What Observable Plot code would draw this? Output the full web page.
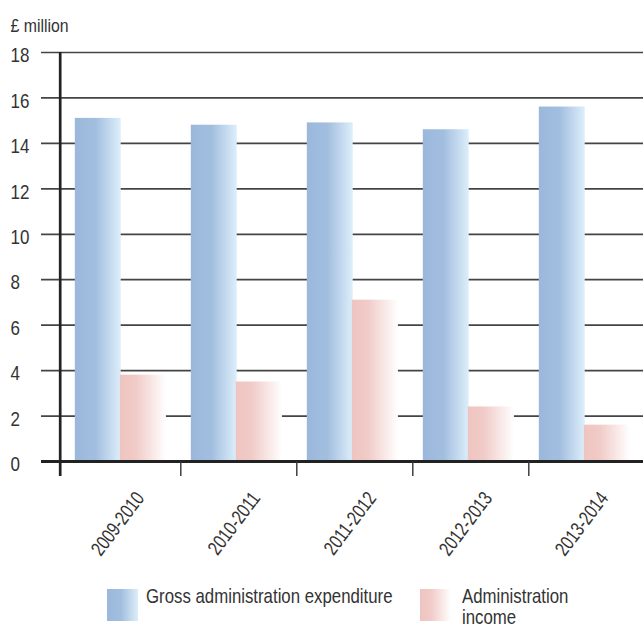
<!DOCTYPE html>
<html>
<head>
<meta charset="utf-8">
<script src="https://cdn.jsdelivr.net/npm/d3@7"></script>
<script src="https://cdn.jsdelivr.net/npm/@observablehq/plot@0.6"></script>
<style>
  html, body { margin: 0; padding: 0; background: #fff; overflow: hidden; }
  body { width: 643px; height: 628px; font-family: "Liberation Sans", Arial, sans-serif; color: #333; }
  #chart svg { display: block; }
  .legend { position: relative; height: 46px; }
  .legend .swatch { position: absolute; top: 7px; width: 31px; height: 32px; }
  .legend .label { position: absolute; top: 3px; font-size: 21px; line-height: 21px; color: #333;
                   transform: scaleX(0.8); transform-origin: 0 0; white-space: normal; }
  .swatch.exp { left: 107px; background: linear-gradient(to right, #9bb7db 0%, #a2bedf 45%, #ddeefa 100%); }
  .swatch.inc { left: 420px; background: linear-gradient(to right, #eec4c0 0%, #f0cbc8 35%, #ffffff 100%); }
</style>
</head>
<body>
<div id="chart"></div>
<script>
// Gross administration expenditure and administration income, £ million
const years = ["2009-2010", "2010-2011", "2011-2012", "2012-2013", "2013-2014"];
const expenditure = [15.1, 14.8, 14.9, 14.6, 15.6];
const income = [3.8, 3.5, 7.1, 2.4, 1.6];
const yTicks = [0, 2, 4, 6, 8, 10, 12, 14, 16, 18];
const seriesNames = ["Gross administration expenditure", "Administration income"];
const unitLabel = "£ million";

const rows = years.map((year, i) => ({year, expenditure: expenditure[i], income: income[i]}));

const width = 643, height = 582;
const marginLeft = 62, marginRight = -2, marginTop = 52, marginBottom = 121;
const bw = (width - marginLeft - marginRight) / years.length;
const font = "Liberation Sans, Arial, sans-serif";

// Horizontal gradients, one per series, stretched over each bar
const defs = () => {
  const d = d3.create("svg:defs");
  const add = (id, stops) => {
    const g = d.append("linearGradient").attr("id", id).attr("x1", 0).attr("x2", 1).attr("y1", 0).attr("y2", 0);
    for (const [o, c] of stops) g.append("stop").attr("offset", o).attr("stop-color", c);
  };
  add("grad-exp", [[0, "#9bb7db"], [0.45, "#a2bedf"], [1, "#ddeefa"]]);
  add("grad-inc", [[0, "#eec4c0"], [0.35, "#f0cbc8"], [1, "#ffffff"]]);
  return d.node();
};

const chart = Plot.plot({
  width, height, marginLeft, marginRight, marginTop, marginBottom,
  style: {fontFamily: font, background: "#fff", overflow: "visible"},
  x: {domain: years, padding: 0, axis: null},
  y: {domain: [0, 18], axis: null},
  marks: [
    defs,
    // gridlines
    Plot.ruleY(yTicks.filter(d => d > 0), {y: d => d, stroke: "#444", strokeWidth: 1.7, insetLeft: -21, insetRight: 0}),
    // bars
    Plot.barY(rows, {x: "year", y: "expenditure", fill: "url(#grad-exp)", insetLeft: 10.8, insetRight: bw - 57.3}),
    Plot.barY(rows, {x: "year", y: "income", fill: "url(#grad-inc)", insetLeft: 55.8, insetRight: bw - 102.5}),
    // baseline
    Plot.ruleY([0], {stroke: "#222", strokeWidth: 2.8, insetLeft: -21}),
    // vertical axis line
    Plot.ruleX([years[0]], {x: d => d, y1: 18, y2: 0, dx: -bw / 2 - 4, insetBottom: -15, stroke: "#222", strokeWidth: 2.7}),
    // category boundary ticks
    Plot.ruleX(years.slice(0, 4), {x: d => d, y1: 0, y2: 0, dx: bw / 2, insetBottom: -15, stroke: "#333", strokeWidth: 1.4}),
    // y tick labels
    Plot.text(yTicks, {y: d => d, text: d => String(d), frameAnchor: "left", textAnchor: "start", dx: -52, dy: 3, fontSize: 21, fill: "#333"}),
    // unit label
    Plot.text([unitLabel], {text: d => d, frameAnchor: "top-left", textAnchor: "start", dx: -52, dy: -33, fontSize: 18, fill: "#333"}),
    // category labels
    Plot.text(rows, {x: "year", text: "year", frameAnchor: "bottom", textAnchor: "end", lineAnchor: "middle", rotate: -53, dx: 17.5, dy: 33, fontSize: 20, fill: "#333"})
  ]
});

// Condensed lettering: narrow each text group horizontally along its own baseline
const narrow = [0.81, 0.88, 0.77];
d3.select(chart).selectAll("g[aria-label='text']").each(function(_, k) {
  const s = narrow[k] ?? 0.8;
  d3.select(this).selectAll("text").each(function() {
    const t = d3.select(this);
    let tr = t.attr("transform");
    if (!tr) {
      const x = t.attr("x") || 0, y = t.attr("y") || 0;
      tr = `translate(${x},${y})`;
      t.attr("x", null).attr("y", null);
    }
    t.attr("transform", `${tr} scale(${s},1)`);
  });
});
document.getElementById("chart").appendChild(chart);

// Legend
const legend = document.createElement("div");
legend.className = "legend";
legend.innerHTML = `
  <div class="swatch exp"></div><div class="label" style="left:146px">${seriesNames[0]}</div>
  <div class="swatch inc"></div><div class="label" style="left:462px;width:150px">${seriesNames[1]}</div>`;
document.body.appendChild(legend);
</script>
</body>
</html>
